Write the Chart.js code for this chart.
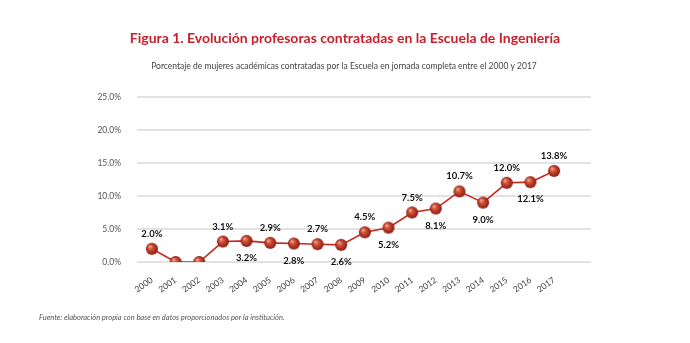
<!DOCTYPE html>
<html>
<head>
<meta charset="utf-8">
<script src="https://cdn.jsdelivr.net/npm/chart.js@4/dist/chart.umd.min.js"></script>
<style>
  html, body { margin: 0; padding: 0; background: #fff; }
  #wrap { position: relative; width: 690px; height: 343px; }
</style>
</head>
<body>
<div id="wrap"><canvas id="chart" width="690" height="343"></canvas></div>
<script>
const years = [2000, 2001, 2002, 2003, 2004, 2005, 2006, 2007, 2008, 2009, 2010, 2011, 2012, 2013, 2014, 2015, 2016, 2017];
const percentages = [2.0, 0, 0, 3.1, 3.2, 2.9, 2.8, 2.7, 2.6, 4.5, 5.2, 7.5, 8.1, 10.7, 9.0, 12.0, 12.1, 13.8];
const labelSide = ["up", "", "", "up", "down", "up", "down", "up", "down", "up", "down", "up", "down", "up", "down", "up", "down", "up"];
const yTicks = [0, 5, 10, 15, 20, 25];

const titleText = "Figura 1. Evolución profesoras contratadas en la Escuela de Ingeniería";
const subtitleText = "Porcentaje de mujeres académicas contratadas por la Escuela en jornada completa entre el 2000 y 2017";
const sourceText = "Fuente: elaboración propia con base en datos proporcionados por la institución.";

// shaded red ball used as point marker
function makeBall(r) {
  const c = document.createElement("canvas");
  c.width = c.height = r * 2 + 2;
  const g = c.getContext("2d");
  const cx = r + 1, cy = r + 1;
  const grad = g.createRadialGradient(cx - r * 0.35, cy - r * 0.4, r * 0.1, cx, cy, r);
  grad.addColorStop(0, "#f0a085");
  grad.addColorStop(0.35, "#d0503a");
  grad.addColorStop(0.8, "#a32a1a");
  grad.addColorStop(1, "#761a0f");
  g.fillStyle = grad;
  g.beginPath();
  g.arc(cx, cy, r, 0, Math.PI * 2);
  g.fill();
  return c;
}
const ball = makeBall(6);

const textPlugin = {
  id: "texts",
  afterDraw(chart) {
    const ctx = chart.ctx;
    ctx.save();
    ctx.textAlign = "center";
    ctx.textBaseline = "middle";
    ctx.fillStyle = "#c8202c";
    ctx.font = "bold 14px Lato";
    ctx.fillText(titleText, 345, 38);
    ctx.fillStyle = "#444";
    ctx.font = "8.5px Lato";
    ctx.fillText(subtitleText, 344, 66);
    ctx.textAlign = "left";
    ctx.fillStyle = "#555";
    ctx.font = "italic 7.5px Lato";
    ctx.fillText(sourceText, 39, 318);

    // value labels
    const meta = chart.getDatasetMeta(0);
    ctx.fillStyle = "#111";
    ctx.font = "bold 9.5px Lato";
    ctx.textAlign = "center";
    meta.data.forEach((pt, i) => {
      if (!labelSide[i]) return;
      const dy = labelSide[i] === "up" ? -15 : 17;
      ctx.fillText(percentages[i].toFixed(1) + "%", pt.x, pt.y + dy);
    });
    ctx.restore();
  }
};

new Chart(document.getElementById("chart"), {
  type: "line",
  data: {
    datasets: [{
      data: years.map((y, i) => ({ x: y, y: percentages[i] })),
      borderColor: "#c8281e",
      borderWidth: 1.6,
      pointStyle: ball,
      pointRadius: 6,
      tension: 0
    }]
  },
  options: {
    responsive: false,
    animation: false,
    layout: { padding: { top: 97, left: 40, right: 99, bottom: 28 } },
    plugins: { legend: { display: false }, tooltip: { enabled: false } },
    scales: {
      x: {
        type: "linear",
        min: 1999.37,
        max: 2018.56,
        afterBuildTicks: (s) => { s.ticks = years.map(v => ({ value: v })); },
        afterFit: (s) => { s.height = 343 - 262 - 28; },
        grid: { display: false },
        border: { display: false },
        ticks: {
          autoSkip: false,
          minRotation: 35,
          maxRotation: 35,
          padding: 5,
          color: "#444",
          font: { family: "Lato", size: 8.5 },
          callback: (v) => String(v)
        }
      },
      y: {
        min: 0,
        max: 25,
        afterBuildTicks: (s) => { s.ticks = yTicks.map(v => ({ value: v })); },
        afterFit: (s) => { s.width = 137 - 40; },
        grid: { color: "#e2e2e2", lineWidth: 2, drawTicks: false },
        border: { display: false },
        ticks: {
          padding: 16,
          color: "#555",
          font: { family: "Lato", size: 8.5 },
          callback: (v) => v.toFixed(1) + "%"
        }
      }
    }
  },
  plugins: [textPlugin]
});
</script>
</body>
</html>
